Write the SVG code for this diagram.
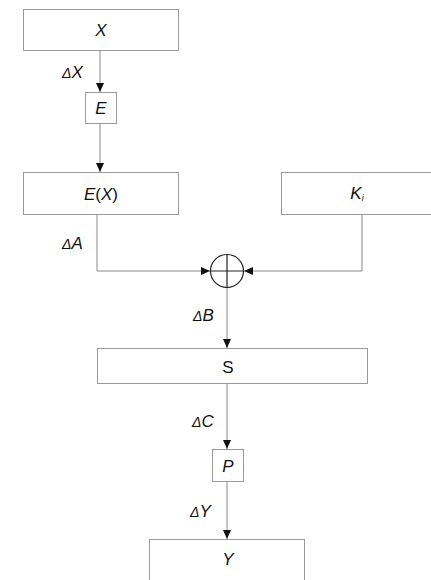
<svg xmlns="http://www.w3.org/2000/svg" width="431" height="580" viewBox="0 0 431 580">
<style>
.box{fill:#fff;stroke:#999;stroke-width:1}
.ln{fill:none;stroke:#888;stroke-width:1}
.t{font-family:"Liberation Sans",Arial,sans-serif;font-size:17px;fill:#111;text-anchor:middle}
.i{font-style:italic}
.lb{font-family:"Liberation Sans",Arial,sans-serif;font-size:17px;fill:#111;font-style:italic}
.d{font-size:14px}
</style>
<defs>
<marker id="ah" markerWidth="10" markerHeight="10" refX="9" refY="5" orient="auto" markerUnits="userSpaceOnUse">
<path d="M0,1 L9,5 L0,9 Z" fill="#111"/>
</marker>
</defs>
<g id="connectors">
<line class="ln" x1="100" y1="50" x2="100" y2="92" marker-end="url(#ah)"/>
<line class="ln" x1="100" y1="123" x2="100" y2="172" marker-end="url(#ah)"/>
<polyline class="ln" points="97,214 97,271 210,271" marker-end="url(#ah)"/>
<polyline class="ln" points="362,214 362,271 244,271" marker-end="url(#ah)"/>
<line class="ln" x1="227" y1="288" x2="227" y2="348" marker-end="url(#ah)"/>
<line class="ln" x1="227" y1="383" x2="227" y2="449" marker-end="url(#ah)"/>
<line class="ln" x1="227" y1="481" x2="227" y2="539" marker-end="url(#ah)"/>
<text class="lb" x="62" y="78"><tspan class="d">Δ</tspan>X</text>
<text class="lb" x="62" y="249"><tspan class="d">Δ</tspan>A</text>
<text class="lb" x="193" y="321"><tspan class="d">Δ</tspan>B</text>
<text class="lb" x="192" y="427"><tspan class="d">Δ</tspan>C</text>
<text class="lb" x="190" y="517"><tspan class="d">Δ</tspan>Y</text>
</g>
<g id="X"><rect class="box" x="23.5" y="9.5" width="155" height="41"/><text class="t i" x="101" y="36">X</text></g>
<g id="E"><rect class="box" x="85.5" y="92.5" width="31" height="31"/><text class="t i" x="101" y="114">E</text></g>
<g id="EX"><rect class="box" x="23.5" y="172.5" width="155" height="42"/><text class="t i" x="101" y="200">E<tspan font-style="normal">(</tspan>X<tspan font-style="normal">)</tspan></text></g>
<g id="Ki"><rect class="box" x="281.5" y="172.5" width="152" height="42"/><text class="t i" x="357" y="199">K<tspan font-size="9" dy="2">i</tspan></text></g>
<g id="xor"><circle cx="227" cy="271" r="16.5" fill="#fff" stroke="#222" stroke-width="1.2"/><line x1="210.5" y1="271" x2="243.5" y2="271" stroke="#222" stroke-width="1.2"/><line x1="227" y1="254.5" x2="227" y2="287.5" stroke="#222" stroke-width="1.2"/></g>
<g id="S"><rect class="box" x="97.5" y="348.5" width="270" height="35"/><text class="t" x="228" y="373">S</text></g>
<g id="P"><rect class="box" x="212.5" y="449.5" width="31" height="32"/><text class="t i" x="228" y="472">P</text></g>
<g id="Y"><rect class="box" x="149.5" y="539.5" width="155" height="45"/><text class="t i" x="228" y="565">Y</text></g>
</svg>
